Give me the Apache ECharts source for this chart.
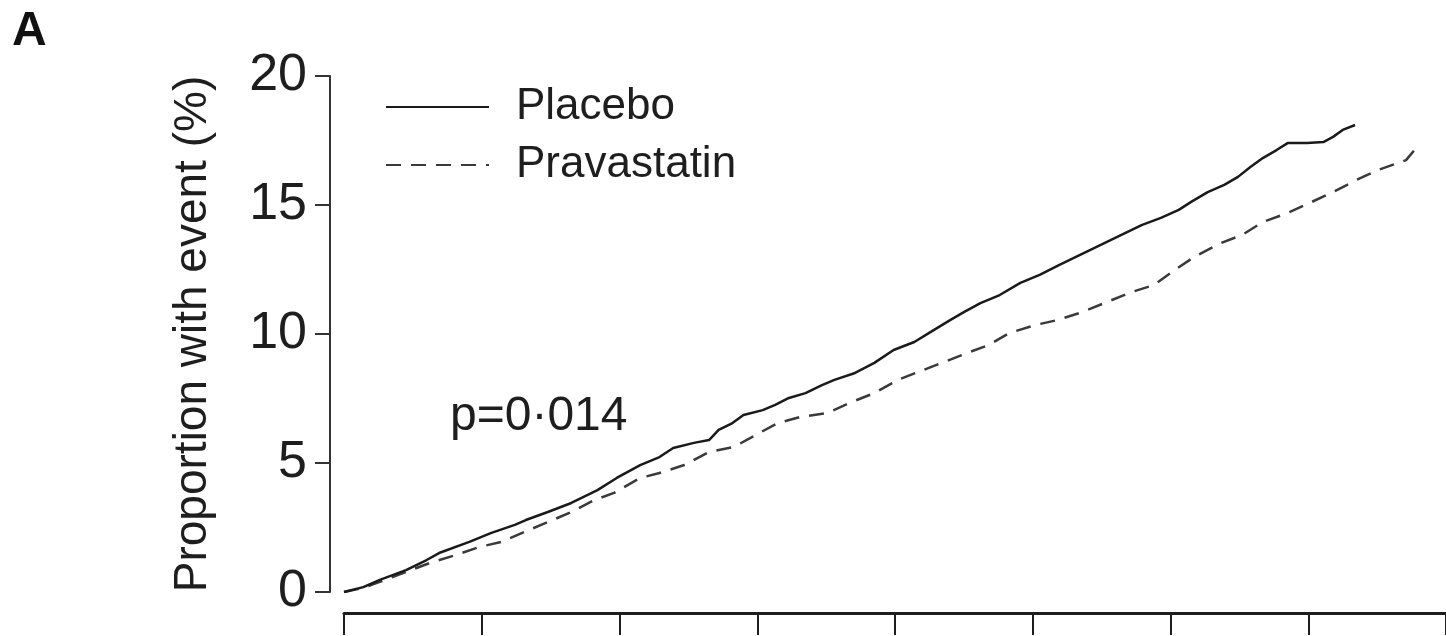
<!DOCTYPE html>
<html>
<head>
<meta charset="utf-8">
<script src="https://cdn.jsdelivr.net/npm/echarts@6/dist/echarts.min.js"></script>
<style>
  html, body { margin: 0; padding: 0; background: #fff; }
  #chart { width: 1446px; height: 636px; }
</style>
</head>
<body>
<div id="chart"></div>
<script>
// Cumulative proportion with event (%) against follow-up time (years)
const seriesNames = ['Placebo', 'Pravastatin'];

const placeboTime = [0, 0.14, 0.26, 0.45, 0.60, 0.69, 0.91, 1.07, 1.24, 1.32, 1.48, 1.65, 1.84, 1.98, 2.15,
  2.29, 2.39, 2.54, 2.65, 2.72, 2.82, 2.90, 3.04, 3.13, 3.23, 3.35, 3.47, 3.56, 3.71, 3.85, 3.99, 4.14,
  4.26, 4.40, 4.50, 4.62, 4.76, 4.91, 5.05, 5.19, 5.34, 5.79, 5.93, 6.06, 6.15, 6.27, 6.39, 6.49, 6.58,
  6.67, 6.77, 6.85, 6.99, 7.11, 7.18, 7.25, 7.34];
const placeboPct = [0, 0.19, 0.47, 0.85, 1.24, 1.51, 1.94, 2.29, 2.60, 2.79, 3.10, 3.45, 3.95, 4.42, 4.92,
  5.23, 5.58, 5.78, 5.89, 6.28, 6.55, 6.86, 7.05, 7.25, 7.52, 7.71, 8.02, 8.22, 8.49, 8.88, 9.38, 9.69,
  10.08, 10.54, 10.85, 11.20, 11.51, 11.98, 12.29, 12.67, 13.06, 14.22, 14.50, 14.81, 15.12, 15.50, 15.78, 16.09, 16.47,
  16.82, 17.13, 17.40, 17.40, 17.44, 17.64, 17.91, 18.10];

const pravaTime = [0, 0.14, 0.26, 0.45, 0.62, 0.81, 0.98, 1.14, 1.31, 1.48, 1.65, 1.82, 1.96, 2.15, 2.29,
  2.47, 2.65, 2.83, 2.99, 3.15, 3.31, 3.51, 3.67, 3.85, 4.02, 4.17, 4.34, 4.52, 4.68, 4.83, 5.02, 5.18,
  5.36, 5.52, 5.72, 5.88, 6.03, 6.17, 6.35, 6.52, 6.67, 6.85, 7.01, 7.18, 7.35, 7.51, 7.71, 7.79];
const pravaPct = [0, 0.16, 0.39, 0.78, 1.12, 1.43, 1.74, 1.94, 2.33, 2.71, 3.10, 3.57, 3.84, 4.42, 4.61,
  4.92, 5.43, 5.62, 6.09, 6.55, 6.78, 6.94, 7.33, 7.71, 8.22, 8.53, 8.88, 9.26, 9.57, 10.04, 10.35, 10.54,
  10.85, 11.20, 11.63, 11.90, 12.48, 12.98, 13.49, 13.84, 14.34, 14.69, 15.08, 15.50, 15.97, 16.36, 16.74, 17.25];

const yTicks = [0, 5, 10, 15, 20];
const panelLabel = 'A';
const pValueText = 'p=0·014';
const yTitle = 'Proportion with event (%)';

const pairs = (xs, ys) => xs.map((x, i) => [x, ys[i]]);

const FONT = '"Liberation Sans", Arial, Helvetica, sans-serif';
const INK = '#1e1e1e';

const chart = echarts.init(document.getElementById('chart'), null, { renderer: 'canvas' });

chart.setOption({
  animation: false,
  backgroundColor: '#ffffff',
  grid: { left: 344, top: 76, width: 1114, height: 516, containLabel: false },
  xAxis: {
    type: 'value', min: 0, max: 8, interval: 1,
    offset: 21,
    axisLine: { show: true, onZero: false, lineStyle: { color: INK, width: 3 } },
    axisTick: { show: true, length: 22, lineStyle: { color: INK, width: 2 } },
    axisLabel: { show: false },
    splitLine: { show: false }
  },
  yAxis: {
    type: 'value', min: yTicks[0], max: yTicks[yTicks.length - 1], interval: 5,
    offset: 14,
    name: yTitle,
    nameLocation: 'middle',
    nameGap: 114,
    nameTextStyle: { fontFamily: FONT, fontSize: 46, color: INK },
    axisLine: { show: true, onZero: false, lineStyle: { color: '#333', width: 2 } },
    axisTick: { show: true, length: 15, lineStyle: { color: '#333', width: 2 } },
    axisLabel: { fontFamily: FONT, fontSize: 52, color: INK, margin: 23 },
    splitLine: { show: false }
  },
  legend: {
    data: seriesNames,
    orient: 'vertical',
    left: 380, top: 80,
    itemWidth: 103, itemHeight: 20,
    itemGap: 14,
    itemStyle: { opacity: 0, borderWidth: 0 },
    textStyle: { fontFamily: FONT, fontSize: 44, color: INK, lineHeight: 44, padding: [0, 0, 0, 22] }
  },
  graphic: [
    {
      type: 'text', left: 12, top: 8,
      style: { text: panelLabel, font: 'bold 48px ' + FONT, fill: '#111' }
    },
    {
      type: 'text', x: 450, y: 393,
      style: { text: pValueText, font: '48px ' + FONT, fill: INK, verticalAlign: 'alphabetic' }
    }
  ],
  series: [
    {
      name: seriesNames[0], type: 'line', symbol: 'none', z: 3,
      data: pairs(placeboTime, placeboPct),
      itemStyle: { color: '#1a1a1a' },
      lineStyle: { color: '#1a1a1a', width: 2.5, type: 'solid' }
    },
    {
      name: seriesNames[1], type: 'line', symbol: 'none', z: 2,
      data: pairs(pravaTime, pravaPct),
      itemStyle: { color: '#3a3a3a' },
      lineStyle: { color: '#3a3a3a', width: 2.5, type: [15, 10] }
    }
  ]
});
</script>
</body>
</html>
